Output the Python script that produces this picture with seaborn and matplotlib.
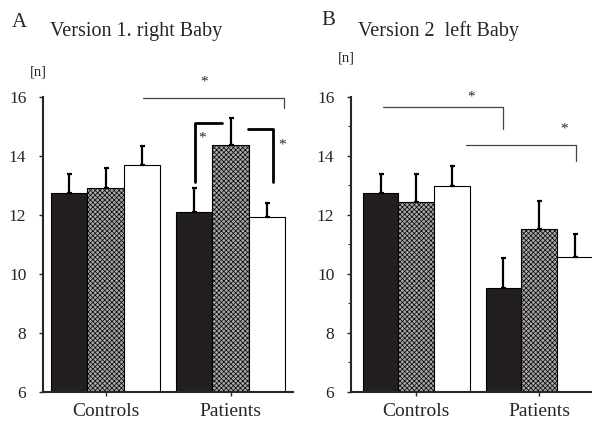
import matplotlib
matplotlib.use("Agg")

import pandas as pd
import matplotlib.pyplot as plt
import seaborn as sns
from matplotlib.ticker import MultipleLocator

# ---------------------------------------------------------------------------
# Data
# ---------------------------------------------------------------------------
groups = ["Controls", "Patients"]
conditions = ["black", "grey", "white"]
bar_colors = ["#231f20", "#a8a8a8", "#ffffff"]

# Version 1, right baby: mean per condition, [Controls, Patients]
v1_means = [[12.75, 12.10], [12.92, 14.37], [13.69, 11.93]]
v1_errs = [[0.64, 0.82], [0.67, 0.92], [0.65, 0.48]]

# Version 2, left baby
v2_means = [[12.75, 9.53], [12.44, 11.53], [12.98, 10.58]]
v2_errs = [[0.64, 1.01], [0.95, 0.94], [0.68, 0.78]]

y_ticks = [6, 8, 10, 12, 14, 16]

sns.set_style("ticks")
plt.rcParams["font.family"] = ["Liberation Serif", "DejaVu Serif"]
plt.rcParams["hatch.linewidth"] = 0.5

W, H = 592, 423


def _frac(px, py):
    return px / W, 1 - py / H


def draw_panel(ax, means, errs, xlim, minor=False):
    df = pd.DataFrame({
        "group": groups * len(conditions),
        "condition": [c for c in conditions for _ in groups],
        "n": [v for row in means for v in row],
    })
    sns.barplot(data=df, x="group", y="n", hue="condition", order=groups,
                hue_order=conditions, palette=bar_colors, saturation=1,
                width=0.87, errorbar=None, legend=False, edgecolor="black",
                linewidth=0.8, ax=ax)

    # one-sided error bars on top of each bar
    for i, cond in enumerate(conditions):
        for j in range(len(groups)):
            bar = ax.patches[i * len(groups) + j]
            if cond == "grey":
                bar.set_hatch("xxxxxxx")
            x = bar.get_x() + bar.get_width() / 2
            ax.errorbar(x, bar.get_height(), yerr=[[0], [errs[i][j]]],
                        fmt="none", ecolor="black", elinewidth=1.6,
                        capsize=1.8, capthick=1.6, zorder=3)

    ax.set_ylim(6, 16)
    ax.set_xlim(*xlim)
    ax.set_yticks(y_ticks)
    if minor:
        ax.yaxis.set_minor_locator(MultipleLocator(1))
        ax.tick_params(axis="y", which="minor", length=2, width=0.8)
    ax.set_xlabel("")
    ax.set_ylabel("")
    sns.despine(ax=ax)
    for s in ("left", "bottom"):
        ax.spines[s].set_linewidth(1.5)
    ax.tick_params(axis="y", which="major", length=3, width=1.0, pad=9,
                   labelsize=12.5)
    ax.tick_params(axis="x", length=3, width=1.0, pad=5, labelsize=14)


fig = plt.figure(figsize=(W / 100, H / 100), dpi=100)

ax_a = fig.add_axes([43 / W, 31 / H, 250 / W, 295 / H])
draw_panel(ax_a, v1_means, v1_errs, (-0.5, 1.5))

ax_b = fig.add_axes([351 / W, 31 / H, 241 / W, 295 / H])
draw_panel(ax_b, v2_means, v2_errs, (-0.53, 1.43), minor=True)

# significance markers, panel A
ax_a.plot([0.296, 1.424, 1.424], [15.97, 15.97, 15.63], color="#444444",
          lw=0.9, clip_on=False)
ax_a.text(0.79, 16.5, "*", ha="center", va="center", fontsize=11)
ax_a.plot([0.712, 0.712, 0.928], [13.12, 15.12, 15.12], color="black",
          lw=2.0, clip_on=False)
ax_a.text(0.776, 14.6, "*", ha="center", va="center", fontsize=11)
ax_a.plot([1.136, 1.336, 1.336], [14.92, 14.92, 13.12], color="black",
          lw=2.0, clip_on=False)
ax_a.text(1.416, 14.36, "*", ha="center", va="center", fontsize=11)

# significance markers, panel B
ax_b.plot([-0.268, 0.707, 0.707], [15.66, 15.66, 14.92], color="#444444",
          lw=0.9, clip_on=False)
ax_b.text(0.447, 16.0, "*", ha="center", va="center", fontsize=11)
ax_b.plot([0.407, 1.30, 1.30], [14.37, 14.37, 13.83], color="#444444",
          lw=0.9, clip_on=False)
ax_b.text(1.203, 14.92, "*", ha="center", va="center", fontsize=11)

# panel labels and titles
fig.text(*_frac(12, 27), "A", fontsize=15, va="baseline")
fig.text(*_frac(50, 36), "Version 1. right Baby", fontsize=14.5, va="baseline")
fig.text(*_frac(30, 76), "[n]", fontsize=10.5, va="baseline")
fig.text(*_frac(321, 25), "B", fontsize=15, va="baseline")
fig.text(*_frac(358, 36), "Version 2  left Baby", fontsize=14.5, va="baseline")
fig.text(*_frac(338, 62), "[n]", fontsize=10.5, va="baseline")

fig.savefig("out.png", dpi=100)
plt.close(fig)
